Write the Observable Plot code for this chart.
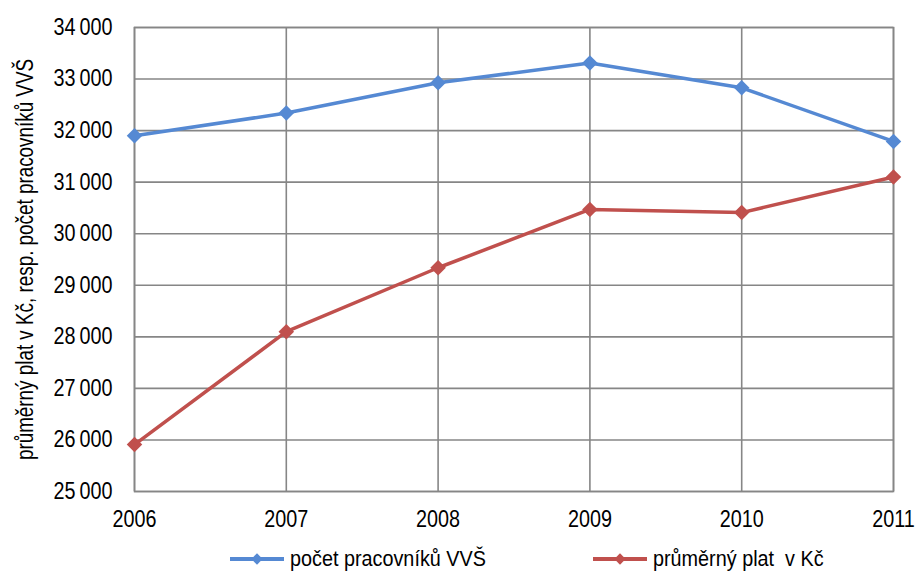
<!DOCTYPE html>
<html><head><meta charset="utf-8">
<script src="https://cdn.jsdelivr.net/npm/d3@7"></script>
<script src="https://cdn.jsdelivr.net/npm/@observablehq/plot@0.6"></script>
<style>
body{margin:0;background:#fff;font-family:"Liberation Sans",Arial,sans-serif;}
#legend{position:relative;width:917px;height:37px;font-size:22px;color:#000;}
.item{position:absolute;top:11px;display:flex;align-items:center;}
.sw{position:relative;width:54px;height:14px;margin-right:6px;}
.sw .ln{position:absolute;left:0;top:5px;width:54px;height:4px;}
.sw .dm{position:absolute;left:23px;top:3px;width:8px;height:8px;transform:rotate(45deg);}
.txt{display:inline-block;white-space:pre;transform:scaleX(0.9);transform-origin:left center;}
</style></head>
<body>
<div id="chart"></div>
<div id="legend"></div>
<script>
const years = [2006, 2007, 2008, 2009, 2010, 2011];
const pocetPracovniku = [31900, 32340, 32930, 33310, 32830, 31790];
const prumernyPlat = [25910, 28100, 29340, 30470, 30410, 31100];
const seriesNames = ["počet pracovníků VVŠ", "průměrný plat  v Kč"];
const colors = ["#5589D3", "#C0504D"];
const yTicks = [25000, 26000, 27000, 28000, 29000, 30000, 31000, 32000, 33000, 34000];
const yLabel = "průměrný plat v Kč, resp. počet pracovníků VVŠ";

const data = [];
years.forEach((y, i) => {
  data.push({year: y, value: pocetPracovniku[i], s: seriesNames[0]});
  data.push({year: y, value: prumernyPlat[i], s: seriesNames[1]});
});
const fmt = v => d3.format(",")(v).replace(",", "\u2009");
const font = '"Liberation Sans",Arial,sans-serif';

const chart = Plot.plot({
  width: 917, height: 535,
  marginLeft: 134, marginRight: 24, marginTop: 27, marginBottom: 44,
  style: {fontFamily: font, fontSize: "23px", color: "#000", background: "#fff"},
  x: {domain: [2006, 2011], label: null},
  y: {domain: [25000, 34000], label: null},
  color: {domain: seriesNames, range: colors},
  marks: [
    Plot.gridY(yTicks, {stroke: "#868686", strokeOpacity: 1, strokeWidth: 1.6}),
    Plot.gridX(years, {stroke: "#868686", strokeOpacity: 1, strokeWidth: 1.6}),
    Plot.frame({stroke: "#868686", strokeWidth: 1.6}),
    Plot.axisX({ticks: years, tickFormat: "d", tickSize: 0, tickPadding: 19, fontSize: 23, label: null}),
    Plot.axisY({ticks: yTicks, tickFormat: fmt, tickSize: 0, tickPadding: 22, fontSize: 23,
      label: yLabel, labelAnchor: "center", labelArrow: "none", labelOffset: 118}),
    Plot.line(data, {x: "year", y: "value", z: "s", stroke: "s", strokeWidth: 3.5}),
    Plot.dot(data, {x: "year", y: "value", fill: "s", symbol: "diamond2", r: 7, stroke: null})
  ]
});
document.getElementById("chart").appendChild(chart);

// condense axis text horizontally (narrow-font look)
function condense(sel, s) {
  chart.querySelectorAll(sel).forEach(el => {
    const t = el.getAttribute("transform");
    if (t) el.setAttribute("transform", t + ` scale(${s},1)`);
    else {
      const x = +el.getAttribute("x") || 0, y = +el.getAttribute("y") || 0;
      el.setAttribute("x", 0); el.setAttribute("y", 0);
      el.setAttribute("transform", `translate(${x},${y}) scale(${s},1)`);
    }
  });
}
condense('g[aria-label="x-axis tick label"] text', 0.86);
condense('g[aria-label="y-axis tick label"] text', 0.86);
condense('g[aria-label="y-axis label"] text', 0.82);

const legend = document.getElementById("legend");
const lefts = [230, 593];
seriesNames.forEach((n, i) => {
  const it = document.createElement("div");
  it.className = "item";
  it.style.left = lefts[i] + "px";
  it.innerHTML = `<div class="sw"><div class="ln" style="background:${colors[i]}"></div><div class="dm" style="background:${colors[i]}"></div></div><span class="txt">${n}</span>`;
  legend.appendChild(it);
});
</script>
</body></html>
